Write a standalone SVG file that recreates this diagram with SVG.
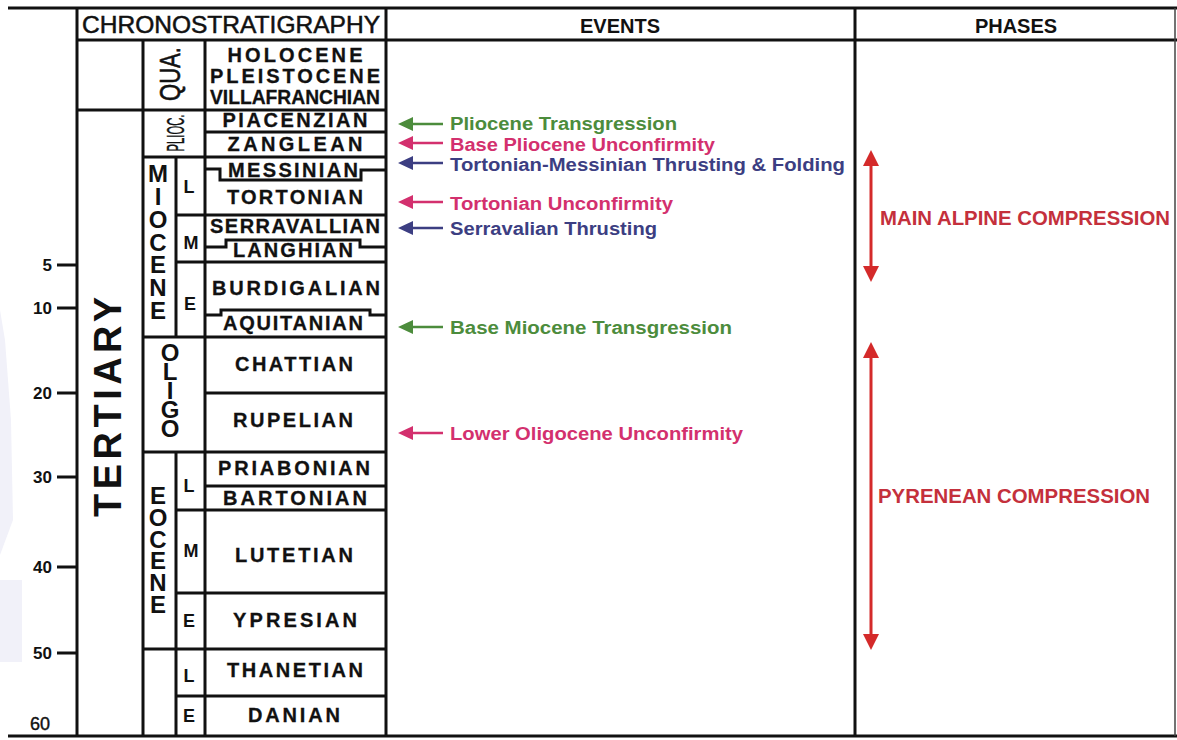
<svg xmlns="http://www.w3.org/2000/svg" width="1177" height="740" viewBox="0 0 1177 740">
<style>
.ln{stroke:#111;stroke-width:3;fill:none}
.thin{stroke:#444;stroke-width:1.5;fill:none}
.st{font-family:"Liberation Sans",Arial,sans-serif;font-weight:bold;font-size:20px;fill:#111;stroke:#111;stroke-width:0.3;text-anchor:middle}
.ax{font-family:"Liberation Sans",Arial,sans-serif;font-weight:bold;font-size:17px;fill:#111;text-anchor:end}
.sub{font-family:"Liberation Sans",Arial,sans-serif;font-weight:bold;font-size:18px;fill:#111;text-anchor:middle}
.stack{font-family:"Liberation Sans",Arial,sans-serif;font-weight:bold;font-size:24px;fill:#111;writing-mode:vertical-rl;text-orientation:upright}
.hd{font-family:"Liberation Sans",Arial,sans-serif;font-weight:bold;font-size:20px;fill:#111;text-anchor:middle}
.ev{font-family:"Liberation Sans",Arial,sans-serif;font-weight:bold;font-size:17.5px}
.ph{font-family:"Liberation Sans",Arial,sans-serif;font-weight:bold;font-size:19.5px;fill:#c4303c}
.green{fill:#4c8c3c}.pink{fill:#d3306e}.navy{fill:#3c3e82}
</style>
<rect x="0" y="0" width="1177" height="740" fill="#fff"/>
<g id="watermark" fill="#f1f1f9">
<polygon points="0,310 5,340 11,420 13,520 0,555"/>
<rect x="0" y="580" width="22" height="82"/>
</g>
<g id="frame">
<line class="ln" x1="8" y1="8" x2="1177" y2="8"/>
<line class="ln" x1="8" y1="736" x2="1177" y2="736"/>
<line class="ln" x1="77" y1="40" x2="1177" y2="40"/>
<line class="ln" x1="77" y1="8" x2="77" y2="736"/>
<line class="ln" x1="386" y1="8" x2="386" y2="736"/>
<line class="ln" x1="855" y1="8" x2="855" y2="736"/>
<line class="thin" x1="1175" y1="8" x2="1175" y2="736"/>
<text x="231" y="33" font-family="Liberation Sans, Arial, sans-serif" font-size="24" fill="#111" stroke="#111" stroke-width="0.5" text-anchor="middle" textLength="298" lengthAdjust="spacingAndGlyphs">CHRONOSTRATIGRAPHY</text>
<text class="hd" x="620" y="33">EVENTS</text>
<text class="hd" x="1016" y="33">PHASES</text>
</g>
<g id="axis">
<path class="ln" d="M57 265H76M57 308H76M57 393H76M57 477H76M57 567H76M57 653H76"/>
<text class="ax" x="52" y="271">5</text>
<text class="ax" x="52" y="314">10</text>
<text class="ax" x="52" y="399">20</text>
<text class="ax" x="52" y="483">30</text>
<text class="ax" x="52" y="573">40</text>
<text class="ax" x="52" y="659">50</text>
<text x="50" y="730" font-family="Liberation Sans, Arial, sans-serif" font-size="18" fill="#111" stroke="#111" stroke-width="0.4" text-anchor="end">60</text>
</g>
<g id="grid">
<line class="ln" x1="143" y1="40" x2="143" y2="736"/>
<line class="ln" x1="205" y1="40" x2="205" y2="736"/>
<line class="ln" x1="176" y1="157" x2="176" y2="337"/>
<line class="ln" x1="176" y1="452" x2="176" y2="736"/>
<line class="ln" x1="77" y1="110" x2="386" y2="110"/>
<line class="ln" x1="205" y1="132" x2="386" y2="132"/>
<line class="ln" x1="143" y1="157" x2="386" y2="157"/>
<polyline class="ln" points="205,169 220,169 220,180 361,180 361,170 386,170"/>
<line class="ln" x1="176" y1="215" x2="386" y2="215"/>
<polyline class="ln" points="205,247 226,247 226,240 360,240 360,247 386,247"/>
<line class="ln" x1="176" y1="262" x2="386" y2="262"/>
<polyline class="ln" points="205,315 221,315 221,310 370,310 370,315 386,315"/>
<line class="ln" x1="143" y1="337" x2="386" y2="337"/>
<line class="ln" x1="205" y1="393" x2="386" y2="393"/>
<line class="ln" x1="143" y1="452" x2="386" y2="452"/>
<line class="ln" x1="205" y1="486" x2="386" y2="486"/>
<line class="ln" x1="176" y1="510" x2="386" y2="510"/>
<line class="ln" x1="176" y1="593" x2="386" y2="593"/>
<line class="ln" x1="143" y1="649" x2="386" y2="649"/>
<line class="ln" x1="176" y1="696" x2="386" y2="696"/>
</g>
<g id="era-tertiary">
<text transform="translate(121,407) rotate(-90)" font-family="Liberation Sans, Arial, sans-serif" font-weight="bold" font-size="38" fill="#111" text-anchor="middle" textLength="220" lengthAdjust="spacing">TERTIARY</text>
</g>
<g id="period-qua">
<text transform="translate(180,74) rotate(-90)" font-family="Liberation Sans, Arial, sans-serif" font-size="30" fill="#111" stroke="#111" stroke-width="0.6" text-anchor="middle" textLength="54" lengthAdjust="spacingAndGlyphs">QUA.</text>
</g>
<g id="epoch-plioc">
<text transform="translate(184,133) rotate(-90)" font-family="Liberation Sans, Arial, sans-serif" font-size="24" fill="#111" stroke="#111" stroke-width="0.4" text-anchor="middle" textLength="37" lengthAdjust="spacingAndGlyphs">PLIOC.</text>
</g>
<g id="epoch-miocene">
<text class="stack" x="158" y="160" textLength="164" lengthAdjust="spacing">MIOCENE</text>
<text class="sub" x="189" y="193">L</text>
<text class="sub" x="191" y="249">M</text>
<text class="sub" x="190" y="310">E</text>
</g>
<g id="epoch-oligo">
<text class="stack" x="170" y="339" textLength="103" lengthAdjust="spacing">OLIGO</text>
</g>
<g id="epoch-eocene">
<text class="stack" x="158" y="482" textLength="136" lengthAdjust="spacing">EOCENE</text>
<text class="sub" x="189" y="492">L</text>
<text class="sub" x="191" y="557">M</text>
<text class="sub" x="189" y="627">E</text>
</g>
<g id="epoch-paleocene">
<text class="sub" x="189" y="682">L</text>
<text class="sub" x="189" y="722">E</text>
</g>
<g id="stages">
<text class="st" x="295" y="62" textLength="135" lengthAdjust="spacing">HOLOCENE</text>
<text class="st" x="295" y="83" textLength="170" lengthAdjust="spacing">PLEISTOCENE</text>
<text class="st" x="295" y="104" font-size="17" textLength="170" lengthAdjust="spacingAndGlyphs">VILLAFRANCHIAN</text>
<text class="st" x="295" y="127" textLength="145" lengthAdjust="spacing">PIACENZIAN</text>
<text class="st" x="295" y="151" textLength="135" lengthAdjust="spacing">ZANGLEAN</text>
<text class="st" x="293" y="177" textLength="130" lengthAdjust="spacing">MESSINIAN</text>
<text class="st" x="295" y="204" textLength="136" lengthAdjust="spacing">TORTONIAN</text>
<text class="st" x="295" y="233" textLength="170" lengthAdjust="spacing">SERRAVALLIAN</text>
<text class="st" x="293" y="257" textLength="120" lengthAdjust="spacing">LANGHIAN</text>
<text class="st" x="296" y="295" textLength="168" lengthAdjust="spacing">BURDIGALIAN</text>
<text class="st" x="293" y="330" textLength="140" lengthAdjust="spacing">AQUITANIAN</text>
<text class="st" x="294" y="371" textLength="118" lengthAdjust="spacing">CHATTIAN</text>
<text class="st" x="293" y="427" textLength="120" lengthAdjust="spacing">RUPELIAN</text>
<text class="st" x="294" y="475" textLength="152" lengthAdjust="spacing">PRIABONIAN</text>
<text class="st" x="295" y="505" textLength="144" lengthAdjust="spacing">BARTONIAN</text>
<text class="st" x="294" y="562" textLength="118" lengthAdjust="spacing">LUTETIAN</text>
<text class="st" x="295" y="627" textLength="124" lengthAdjust="spacing">YPRESIAN</text>
<text class="st" x="295" y="677" textLength="136" lengthAdjust="spacing">THANETIAN</text>
<text class="st" x="294" y="722" textLength="92" lengthAdjust="spacing">DANIAN</text>
</g>
<g id="connectors">
<g stroke-width="2.4">
<line x1="410" y1="124" x2="443" y2="124" stroke="#4c8c3c"/>
<line x1="410" y1="143" x2="443" y2="143" stroke="#d3306e"/>
<line x1="410" y1="163" x2="443" y2="163" stroke="#3c3e82"/>
<line x1="410" y1="202" x2="443" y2="202" stroke="#d3306e"/>
<line x1="410" y1="228" x2="443" y2="228" stroke="#3c3e82"/>
<line x1="410" y1="327" x2="443" y2="327" stroke="#4c8c3c"/>
<line x1="410" y1="433" x2="443" y2="433" stroke="#d3306e"/>
</g>
<polygon class="green" points="398,124 413,117 413,131"/>
<polygon class="pink" points="398,143 413,136 413,150"/>
<polygon class="navy" points="398,163 413,156 413,170"/>
<polygon class="pink" points="398,202 413,195 413,209"/>
<polygon class="navy" points="398,228 413,221 413,235"/>
<polygon class="green" points="398,327 413,320 413,334"/>
<polygon class="pink" points="398,433 413,426 413,440"/>
<line x1="871" y1="162" x2="871" y2="270" stroke="#d42a2a" stroke-width="3"/>
<polygon fill="#d42a2a" points="871,150 863,166 879,166"/>
<polygon fill="#d42a2a" points="871,282 863,266 879,266"/>
<line x1="871" y1="354" x2="871" y2="638" stroke="#d42a2a" stroke-width="3"/>
<polygon fill="#d42a2a" points="871,342 863,358 879,358"/>
<polygon fill="#d42a2a" points="871,650 863,634 879,634"/>
</g>
<g id="events">
<text class="ev green" x="450" y="130" textLength="227" lengthAdjust="spacingAndGlyphs">Pliocene Transgression</text>
<text class="ev pink" x="450" y="151" textLength="265" lengthAdjust="spacingAndGlyphs">Base Pliocene Unconfirmity</text>
<text class="ev navy" x="450" y="171" textLength="395" lengthAdjust="spacingAndGlyphs">Tortonian-Messinian Thrusting &amp; Folding</text>
<text class="ev pink" x="450" y="210" textLength="223" lengthAdjust="spacingAndGlyphs">Tortonian Unconfirmity</text>
<text class="ev navy" x="450" y="235" textLength="207" lengthAdjust="spacingAndGlyphs">Serravalian Thrusting</text>
<text class="ev green" x="450" y="334" textLength="282" lengthAdjust="spacingAndGlyphs">Base Miocene Transgression</text>
<text class="ev pink" x="450" y="440" textLength="293" lengthAdjust="spacingAndGlyphs">Lower Oligocene Unconfirmity</text>
</g>
<g id="phases">
<text class="ph" x="880" y="225" textLength="290" lengthAdjust="spacingAndGlyphs">MAIN ALPINE COMPRESSION</text>
<text class="ph" x="878" y="503" textLength="272" lengthAdjust="spacingAndGlyphs">PYRENEAN COMPRESSION</text>
</g>
</svg>
